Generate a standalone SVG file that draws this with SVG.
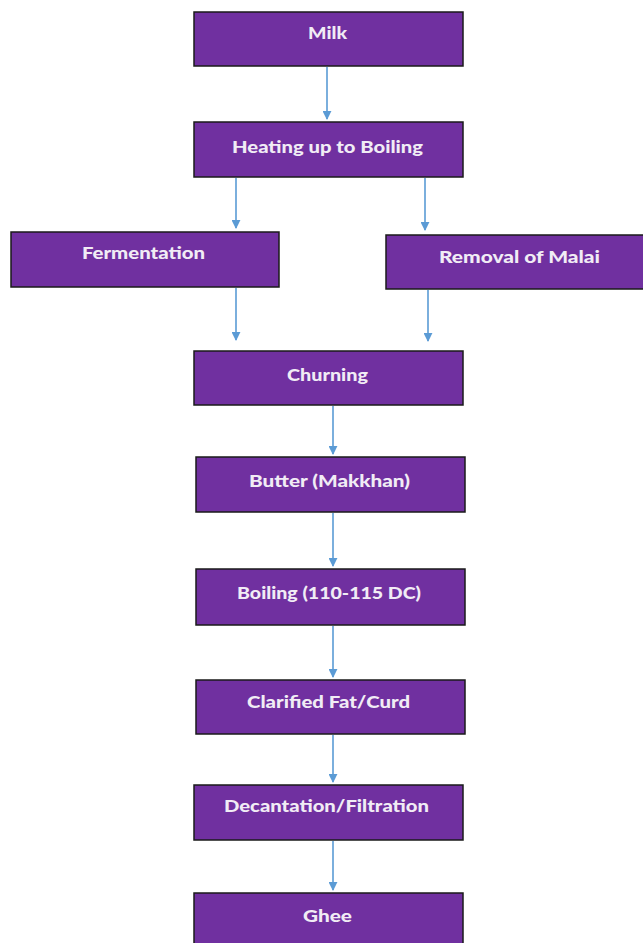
<svg xmlns="http://www.w3.org/2000/svg" width="643" height="943" viewBox="0 0 643 943">
  <style>
    .box { fill: #7030a0; stroke: #1a1a1a; stroke-width: 1.5; }
    .lbl { fill: #f1ecf5; font-family: Lato, "Open Sans", "Liberation Sans", sans-serif; font-weight: 900; font-size: 17px; text-anchor: middle; }
    .arr { stroke: #5b9bd5; stroke-width: 1.6; fill: none; marker-end: url(#head); }
  </style>
  <defs>
    <marker id="head" viewBox="0 0 10 10" refX="9" refY="5" markerWidth="9" markerHeight="9" markerUnits="userSpaceOnUse" orient="auto">
      <path d="M0,0 L10,5 L0,10 Z" fill="#5b9bd5"/>
    </marker>
  </defs>
  <rect width="643" height="943" fill="#ffffff"/>

  <g id="connectors">
    <line class="arr" x1="327" y1="67" x2="327" y2="119"/>
    <line class="arr" x1="236" y1="178" x2="236" y2="228"/>
    <line class="arr" x1="425" y1="178" x2="425" y2="230"/>
    <line class="arr" x1="236" y1="288" x2="236" y2="340"/>
    <line class="arr" x1="428" y1="290" x2="428" y2="341"/>
    <line class="arr" x1="333" y1="406" x2="333" y2="454"/>
    <line class="arr" x1="333" y1="513" x2="333" y2="566"/>
    <line class="arr" x1="333" y1="626" x2="333" y2="677"/>
    <line class="arr" x1="333" y1="735" x2="333" y2="782"/>
    <line class="arr" x1="333" y1="841" x2="333" y2="890"/>
  </g>

  <g id="milk">
    <rect class="box" x="194" y="12" width="269" height="54"/>
    <text class="lbl" x="327.5" y="39" textLength="39" lengthAdjust="spacingAndGlyphs">Milk</text>
  </g>
  <g id="heating">
    <rect class="box" x="194" y="122" width="269" height="55"/>
    <text class="lbl" x="327.5" y="153" textLength="191" lengthAdjust="spacingAndGlyphs">Heating up to Boiling</text>
  </g>
  <g id="fermentation">
    <rect class="box" x="11" y="232" width="268" height="55"/>
    <text class="lbl" x="143.5" y="259" textLength="123" lengthAdjust="spacingAndGlyphs">Fermentation</text>
  </g>
  <g id="removal">
    <rect class="box" x="386" y="235" width="262" height="54"/>
    <text class="lbl" x="519.5" y="263" textLength="161" lengthAdjust="spacingAndGlyphs">Removal of Malai</text>
  </g>
  <g id="churning">
    <rect class="box" x="194" y="351" width="269" height="54"/>
    <text class="lbl" x="327.5" y="381" textLength="81" lengthAdjust="spacingAndGlyphs">Churning</text>
  </g>
  <g id="butter">
    <rect class="box" x="196" y="457" width="269" height="55"/>
    <text class="lbl" x="329.5" y="487" textLength="161" lengthAdjust="spacingAndGlyphs">Butter (Makkhan)</text>
  </g>
  <g id="boiling">
    <rect class="box" x="196" y="569" width="269" height="56"/>
    <text class="lbl" x="329" y="599" textLength="184" lengthAdjust="spacingAndGlyphs">Boiling (110-115 DC)</text>
  </g>
  <g id="clarified">
    <rect class="box" x="196" y="680" width="269" height="54"/>
    <text class="lbl" x="328.5" y="708" textLength="163" lengthAdjust="spacingAndGlyphs">Clarified Fat/Curd</text>
  </g>
  <g id="decantation">
    <rect class="box" x="194" y="785" width="269" height="55"/>
    <text class="lbl" x="326.5" y="812" textLength="205" lengthAdjust="spacingAndGlyphs">Decantation/Filtration</text>
  </g>
  <g id="ghee">
    <rect class="box" x="194" y="893" width="269" height="56"/>
    <text class="lbl" x="327.5" y="922" textLength="49" lengthAdjust="spacingAndGlyphs">Ghee</text>
  </g>
</svg>
